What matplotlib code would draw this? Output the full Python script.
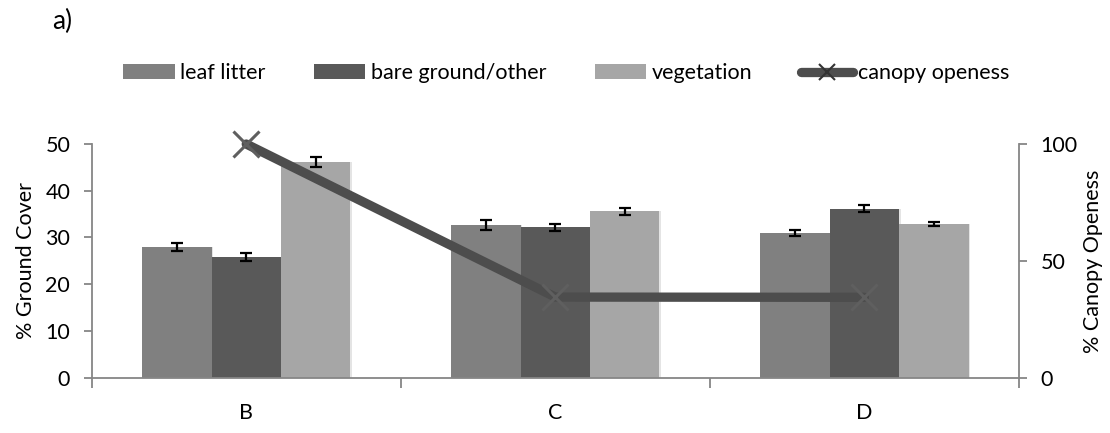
import matplotlib
matplotlib.use("Agg")
import matplotlib.pyplot as plt
import numpy as np
from matplotlib.lines import Line2D

sites = ["B", "C", "D"]
leaf_litter = [28.0, 32.7, 31.0]
leaf_err = [0.9, 1.0, 0.7]
bare_ground = [25.8, 32.2, 36.2]
bare_err = [0.8, 0.75, 0.8]
vegetation = [46.1, 35.6, 32.9]
veg_err = [1.1, 0.75, 0.4]
canopy = [100.0, 34.5, 34.4]

plt.rcParams['font.family'] = ['Lato', 'DejaVu Sans']
FS = 15.5

fig = plt.figure(figsize=(11.10, 4.33), dpi=100)
ax = fig.add_axes([0.0826, 0.1277, 0.918 - 0.0826, 0.6674 - 0.1277])
ax2 = ax.twinx()

x = np.arange(len(sites))
w = 0.2245
cols = ["#808080", "#595959", "#a6a6a6"]
series = [(leaf_litter, leaf_err, "leaf litter"),
          (bare_ground, bare_err, "bare ground/other"),
          (vegetation, veg_err, "vegetation")]
handles = []
for i, (vals, errs, lab) in enumerate(series):
    off = (i - 1) * w
    ax.bar(x + off + 0.005, vals, w, color="#e4e4e4", zorder=1, linewidth=0)
    b = ax.bar(x + off, vals, w, color=cols[i], label=lab, zorder=2, linewidth=0)
    ax.errorbar(x + off, vals, yerr=errs, fmt="none", ecolor="black",
                elinewidth=1.6, capsize=4.5, capthick=1.6, zorder=3)
    handles.append(b)

ax.set_xlim(-0.5, 2.5)
ax.set_ylim(0, 50)
ax.set_yticks(range(0, 51, 10))
ax.set_xticks(x)
ax.set_xticklabels(sites, fontsize=FS)
ax.set_xticks([-0.5, 0.5, 1.5, 2.5], minor=True)
ax.tick_params(axis="x", which="major", length=0, pad=18)
ax.tick_params(axis="x", which="minor", length=7, width=1.3, color="#868686", direction="out")
ax.tick_params(axis="y", length=5.5, width=1.3, color="#868686", labelsize=FS, pad=10)
ax.set_ylabel("% Ground Cover", fontsize=FS, labelpad=7)

ln, = ax2.plot(x, canopy, color="#4d4d4d", linewidth=6.7, marker="x",
               markersize=19, markeredgewidth=2.2, markeredgecolor="#5f5f5f",
               solid_capstyle="round", zorder=5, clip_on=False,
               label="canopy openess")
ax2.set_ylim(0, 100)
ax2.set_yticks([0, 50, 100])
ax2.tick_params(axis="y", length=5.5, width=1.3, color="#868686", labelsize=FS, pad=10)
ax2.set_ylabel("% Canopy Openess", fontsize=FS, labelpad=4)

for a in (ax, ax2):
    a.spines["top"].set_visible(False)
    for s in ("left", "right", "bottom"):
        a.spines[s].set_color("#868686")
        a.spines[s].set_linewidth(1.3)
ax.spines["right"].set_visible(False)
ax2.spines["left"].set_visible(False)
ax2.spines["bottom"].set_visible(False)

leg_line = Line2D([], [], color="#4d4d4d", linewidth=6.7, marker="x",
                  markersize=12, markeredgewidth=1.5, markeredgecolor="#333333",
                  solid_capstyle="round")
fig.legend(handles + [leg_line],
           ["leaf litter", "bare ground/other", "vegetation", "canopy openess"],
           loc="center", bbox_to_anchor=(0.51, 0.831), ncol=4, frameon=False,
           fontsize=FS, handlelength=2.4, handletextpad=0.25, columnspacing=2.25,
           handleheight=0.65)

fig.text(0.047, 0.95, "a)", fontsize=19, va="center", ha="left")

fig.savefig("out.png", dpi=100)
